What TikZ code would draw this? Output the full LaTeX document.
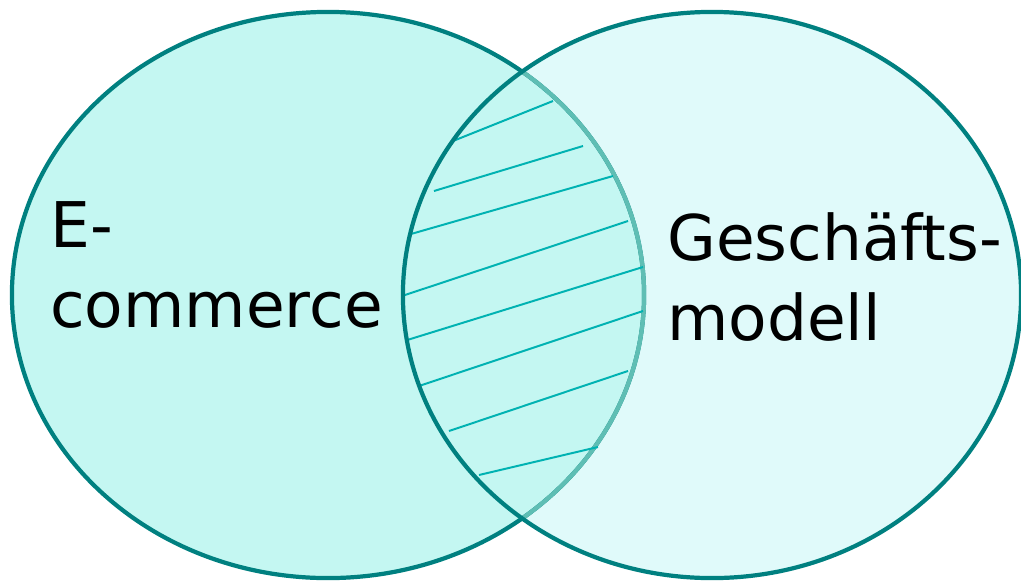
\documentclass[tikz,border=0pt]{standalone}
\usepackage{fontspec}
\setmainfont{DejaVu Sans}
\usetikzlibrary{positioning}
\definecolor{tealline}{HTML}{008080}
\definecolor{tealsoft}{HTML}{5FBEB4}
\definecolor{hatchline}{HTML}{00B2B2}
\definecolor{leftfill}{HTML}{C4F7F2}
\definecolor{rightfill}{HTML}{E0FAFA}
\tikzset{
  setline/.style={line width=3pt,draw=tealline},
  hatch/.style={line width=1.4pt,draw=hatchline},
  setlabel/.style={inner sep=0pt,anchor=base west,align=left,
    font=\fontsize{44.8}{56.5}\selectfont}
}
\begin{document}
\begin{tikzpicture}[x=0.025cm,y=-0.025cm]
  \useasboundingbox(0,0)rectangle(1021,581);
  % sets
  \fill[rightfill](712,295)ellipse[x radius=7.725cm,y radius=7.075cm];
  \filldraw[fill=leftfill,setline](328,295)ellipse[x radius=7.9cm,y radius=7.075cm];
  \begin{scope}
    \clip(712,295)ellipse[x radius=7.725cm,y radius=7.075cm];
    \draw[setline,draw=tealsoft](328,295)ellipse[x radius=7.9cm,y radius=7.075cm];
    % hatching of the common part
    \foreach \xa/\ya/\xb/\yb in {453/141/553/101,434/191/583/146,404/236/613/176,
      405/295/628/221,404/341/643/267,419/386/643/311,449/431/628/371,479/475/598/447}
      \draw[hatch](\xa,\ya)--(\xb,\yb);
  \end{scope}
  \draw[setline](712,295)ellipse[x radius=7.725cm,y radius=7.075cm];
  % labels
  \node[setlabel](ecom)at(50,327){E-\\commerce};
  \node[setlabel](gm)at(667,340){Geschäfts-\\modell};
\end{tikzpicture}
\end{document}
